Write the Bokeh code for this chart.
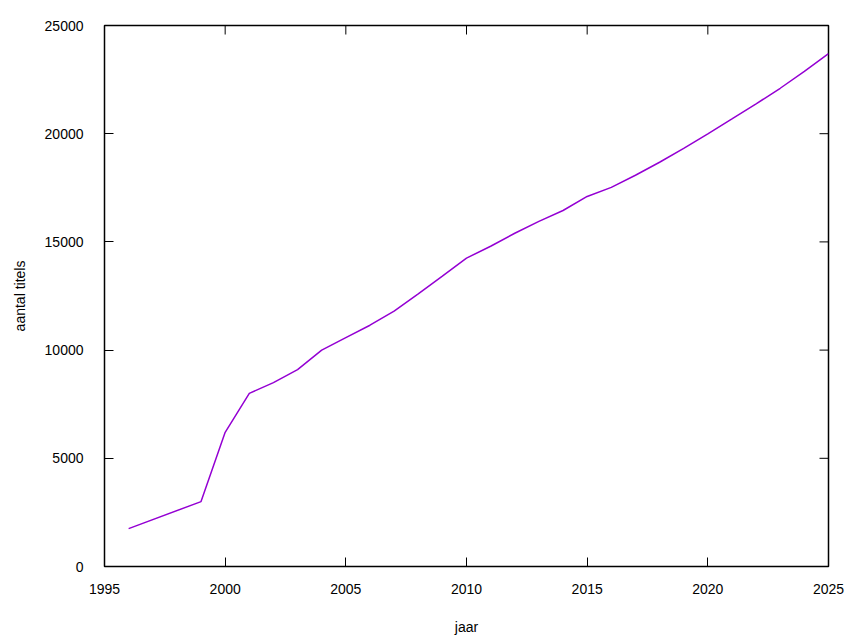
import math
from bokeh.plotting import figure
from bokeh.models import Range1d, FixedTicker, LinearAxis
from bokeh.embed import file_html
from bokeh.resources import INLINE

years = [1996, 1999, 2000, 2001, 2002, 2003, 2004, 2005, 2006, 2007, 2008, 2009,
         2010, 2011, 2012, 2013, 2014, 2015, 2016, 2017, 2018, 2019, 2020, 2021,
         2022, 2023, 2024, 2025]
titles = [1750, 3000, 6200, 8000, 8500, 9100, 10000, 10580, 11150, 11800, 12600, 13420,
          14250, 14800, 15400, 15950, 16450, 17100, 17520, 18080, 18680, 19320, 19990, 20680,
          21380, 22100, 22880, 23700]

x_ticks = [1995, 2000, 2005, 2010, 2015, 2020, 2025]
y_ticks = [0, 5000, 10000, 15000, 20000, 25000]
x_min, x_max = 1995, 2025
y_min, y_max = 0, 25000

FONT = "Liberation Sans"
FS = "14px"

p = figure(width=856, height=643, output_backend="svg", toolbar_location=None,
           x_range=Range1d(x_min, x_max), y_range=Range1d(y_min, y_max),
           x_axis_location=None, y_axis_location=None,
           min_border_left=104, min_border_right=28, min_border_top=25, min_border_bottom=77)

p.xgrid.visible = False
p.ygrid.visible = False
p.outline_line_color = "black"
p.outline_line_width = 1.5
p.outline_line_alpha = 1.0
p.background_fill_color = "white"
p.border_fill_color = "white"


def style(ax, ticks):
    ax.ticker = FixedTicker(ticks=ticks)
    ax.axis_line_color = None
    ax.major_tick_in = 9
    ax.major_tick_out = 0
    ax.major_tick_line_color = "black"
    ax.major_tick_line_width = 1
    ax.minor_tick_line_color = None
    ax.major_label_text_font = FONT
    ax.major_label_text_font_size = FS
    ax.major_label_text_color = "black"
    ax.axis_label_text_font = FONT
    ax.axis_label_text_font_size = FS
    ax.axis_label_text_font_style = "normal"
    ax.axis_label_text_color = "black"


bottom = LinearAxis(axis_label="jaar")
style(bottom, x_ticks)
bottom.major_label_standoff = 17
bottom.axis_label_standoff = 22
p.add_layout(bottom, "below")

left = LinearAxis(axis_label="aantal titels")
style(left, y_ticks)
left.major_label_standoff = 21
left.axis_label_standoff = 14
p.add_layout(left, "left")

# mirrored inward ticks on top and right edges (half of each dash is clipped by the frame)
p.scatter(x=x_ticks, y=[y_max] * len(x_ticks), marker="dash", size=18, angle=math.pi / 2,
          line_color="black", line_width=1)
p.scatter(x=[x_max] * len(y_ticks), y=y_ticks, marker="dash", size=18, angle=0,
          line_color="black", line_width=1)

p.line(years, titles, line_color="#9400D3", line_width=1.5)

open("out.html", "w").write(file_html(p, INLINE))
